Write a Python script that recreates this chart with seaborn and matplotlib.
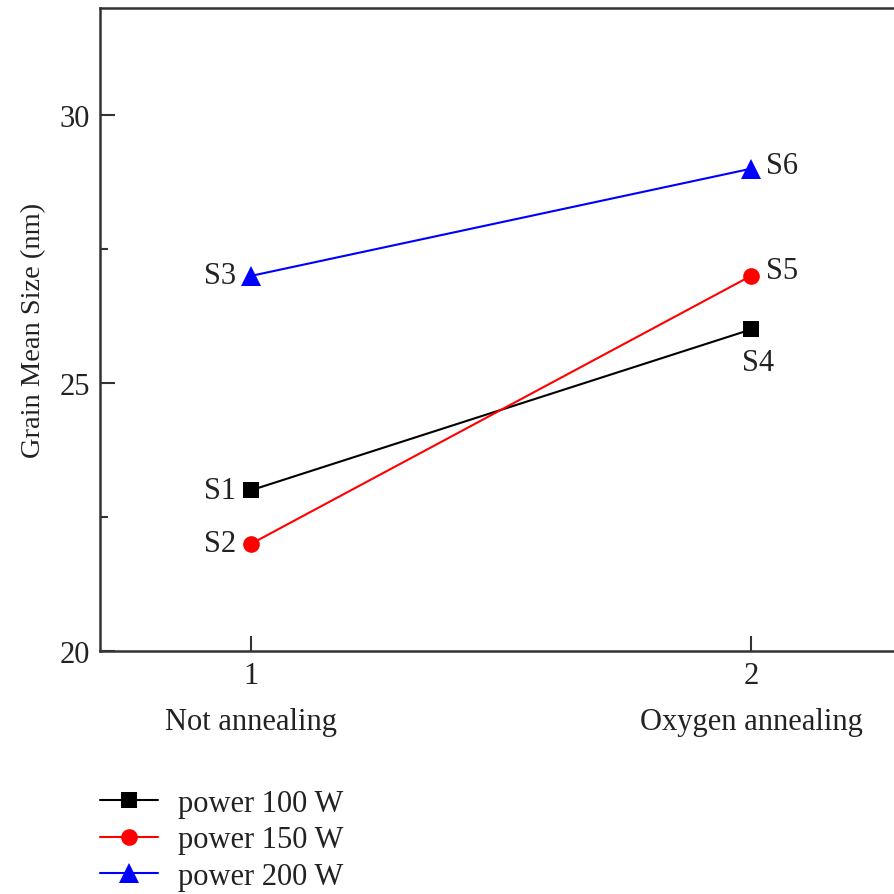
import matplotlib
matplotlib.use("Agg")
import matplotlib.pyplot as plt
import seaborn as sns
import pandas as pd
from matplotlib.ticker import MultipleLocator

sns.set_theme(style="white")
plt.rcParams["font.family"] = ["Liberation Serif", "DejaVu Serif"]

conditions = [1, 2]
condition_names = ["Not annealing", "Oxygen annealing"]
series_names = ["power 100 W", "power 150 W", "power 200 W"]
size_100w = [23.0, 26.0]
size_150w = [22.0, 27.0]
size_200w = [27.0, 29.0]
sample_labels = [["S1", "S4"], ["S2", "S5"], ["S3", "S6"]]

colors = ["black", "red", "blue"]
markers = ["s", "o", "^"]
text_color = "#222222"

rows = []
for name, vals in zip(series_names, [size_100w, size_150w, size_200w]):
    for c, v in zip(conditions, vals):
        rows.append({"condition": c, "size": v, "series": name})
df = pd.DataFrame(rows)

fig = plt.figure(figsize=(8.94, 8.95), dpi=100)
ax = fig.add_axes([0.1119, 0.2715, 0.8881, 0.7185])

sns.lineplot(data=df, x="condition", y="size", hue="series", style="series",
             palette=dict(zip(series_names, colors)),
             markers=dict(zip(series_names, markers)),
             dashes=False, markersize=12, linewidth=1.5, markeredgewidth=0,
             ax=ax, legend=True)

# triangles read a touch larger than squares/circles
for ln in ax.lines:
    if ln.get_marker() == "^":
        ln.set_markersize(14)

ax.set_xlim(0.698, 2.286)
ax.set_ylim(20, 32)
ax.set_xticks(conditions)
ax.set_xticklabels(["1", "2"])
ax.set_yticks([20, 25, 30])
ax.yaxis.set_minor_locator(MultipleLocator(2.5))
ax.tick_params(axis="both", which="major", direction="in", length=11, width=1.5,
               labelsize=22, colors="#333333", labelcolor=text_color, pad=7)
ax.tick_params(axis="y", which="minor", direction="in", length=5.5, width=1.5,
               left=True, colors="#333333")
ax.tick_params(axis="x", which="major", bottom=True)
ax.tick_params(axis="y", which="major", left=True)

for side in ["left", "bottom", "top"]:
    ax.spines[side].set_color("#333333")
    ax.spines[side].set_linewidth(1.8)
ax.spines["right"].set_visible(False)

ax.set_xlabel("")
ax.set_ylabel("Grain Mean Size (nm)", fontsize=20.5, color=text_color, labelpad=10)

# category names under the tick numbers
for c, nm in zip(conditions, condition_names):
    ax.annotate(nm, xy=(c, 20), xycoords="data", xytext=(0, -51),
                textcoords="offset points", ha="center", va="center",
                fontsize=22, color=text_color)

# sample labels next to each point
vals_all = [size_100w, size_150w, size_200w]
offsets = {
    "S1": (-11, 0, "right", "center"),
    "S2": (-11, 0, "right", "center"),
    "S3": (-11, 0, "right", "center"),
    "S4": (5, -13, "center", "top"),
    "S5": (11, 4, "left", "center"),
    "S6": (11, 2, "left", "center"),
}
for vals, labs in zip(vals_all, sample_labels):
    for c, v, lab in zip(conditions, vals, labs):
        dx, dy, ha, va = offsets[lab]
        ax.annotate(lab, xy=(c, v), xytext=(dx, dy), textcoords="offset points",
                    ha=ha, va=va, fontsize=22, color=text_color)

leg = ax.legend(loc="upper left", bbox_to_anchor=(0.0, -0.214), frameon=False,
                fontsize=22, handlelength=1.9, handletextpad=0.65,
                labelspacing=0.25, borderaxespad=0, borderpad=0)
for t in leg.get_texts():
    t.set_color(text_color)
for h in leg.legend_handles:
    if hasattr(h, "get_marker") and h.get_marker() == "^":
        h.set_markersize(14)

fig.savefig("out.png", dpi=100)
